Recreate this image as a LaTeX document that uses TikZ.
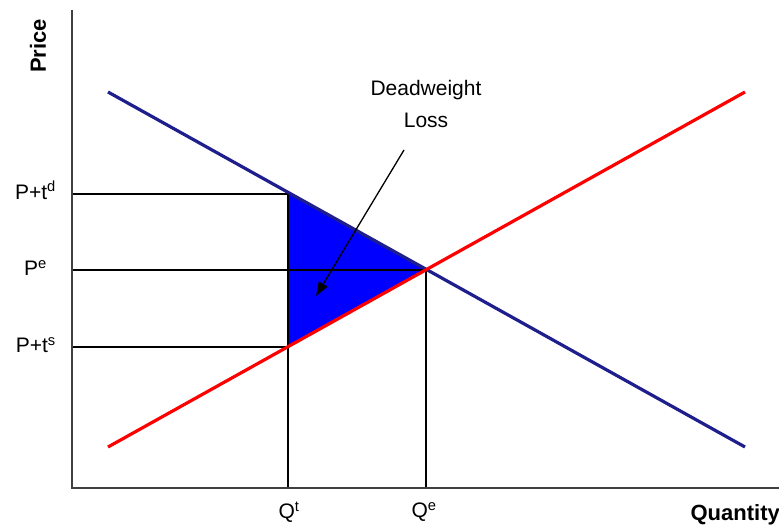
\documentclass[tikz,border=0pt]{standalone}
\usepackage{fontspec}
\setmainfont{Liberation Sans}
\usetikzlibrary{arrows.meta}
\definecolor{demandblue}{RGB}{30,30,140}
\definecolor{dwlblue}{RGB}{0,0,255}
\begin{document}
\begin{tikzpicture}[x=1pt,y=-1pt,
  axis/.style={draw=black!75,line width=2pt},
  guide/.style={draw=black,line width=1.4pt},
  demand/.style={draw=demandblue,line width=3.2pt},
  supply/.style={draw=red,line width=3.2pt},
  lbl/.style={font=\fontsize{21}{24}\selectfont,inner sep=0pt},
  blbl/.style={font=\fontsize{22}{25}\selectfont\bfseries,inner sep=0pt}]
\useasboundingbox (0,0) rectangle (779,527);
% key points
\coordinate (dA) at (108,92);
\coordinate (dB) at (745,447);
\coordinate (sA) at (108,447);
\coordinate (sB) at (745,92);
\coordinate (E) at (426,270);
\coordinate (Td) at (288,192);
\coordinate (Ts) at (288,347);
\coordinate (O) at (72,488);
\coordinate (Ytop) at (72,10);
\coordinate (Xend) at (779,488);
\coordinate (LdY) at (72,194);
\coordinate (LeY) at (72,270);
\coordinate (LsY) at (72,347);
\coordinate (QtX) at (288,488);
\coordinate (QeX) at (426,488);
% triangle
\fill[dwlblue] (Td) -- (E) -- (Ts) -- cycle;
% guides
\draw[guide] (LdY) -- (Td |- LdY);
\draw[guide] (LeY) -- (E);
\draw[guide] (LsY) -- (Ts);
\draw[guide] (Td) -- (QtX);
\draw[guide] (E) -- (QeX);
% curves
\draw[demand] (dA) -- (dB);
\draw[supply] (sA) -- (sB);
% axes
\draw[axis] (Ytop) -- (O) -- (Xend);
% labels
\node[blbl,rotate=90] (price) at (38,46) {Price};
\node[blbl,anchor=east] (qty) at (780,515) {Quantity};
\node[lbl] (qt) at (289,512) {Q\textsuperscript{t}};
\node[lbl] (qe) at (424,512) {Q\textsuperscript{e}};
\node[lbl,anchor=east] (pd) at (56,190) {P+t\textsuperscript{d}};
\node[lbl,anchor=east] (pe) at (47,268) {P\textsuperscript{e}};
\node[lbl,anchor=east] (ps) at (56,345) {P+t\textsuperscript{s}};
\node[lbl] (dw) at (426,90) {Deadweight};
\node[lbl] (loss) at (426,120) {Loss};
\coordinate (arrS) at (404,150);
\coordinate (arrE) at (316,296);
\draw[black,line width=1.3pt,-{Triangle[length=14pt,width=10pt]}] (arrS) -- (arrE);
\end{tikzpicture}
\end{document}
